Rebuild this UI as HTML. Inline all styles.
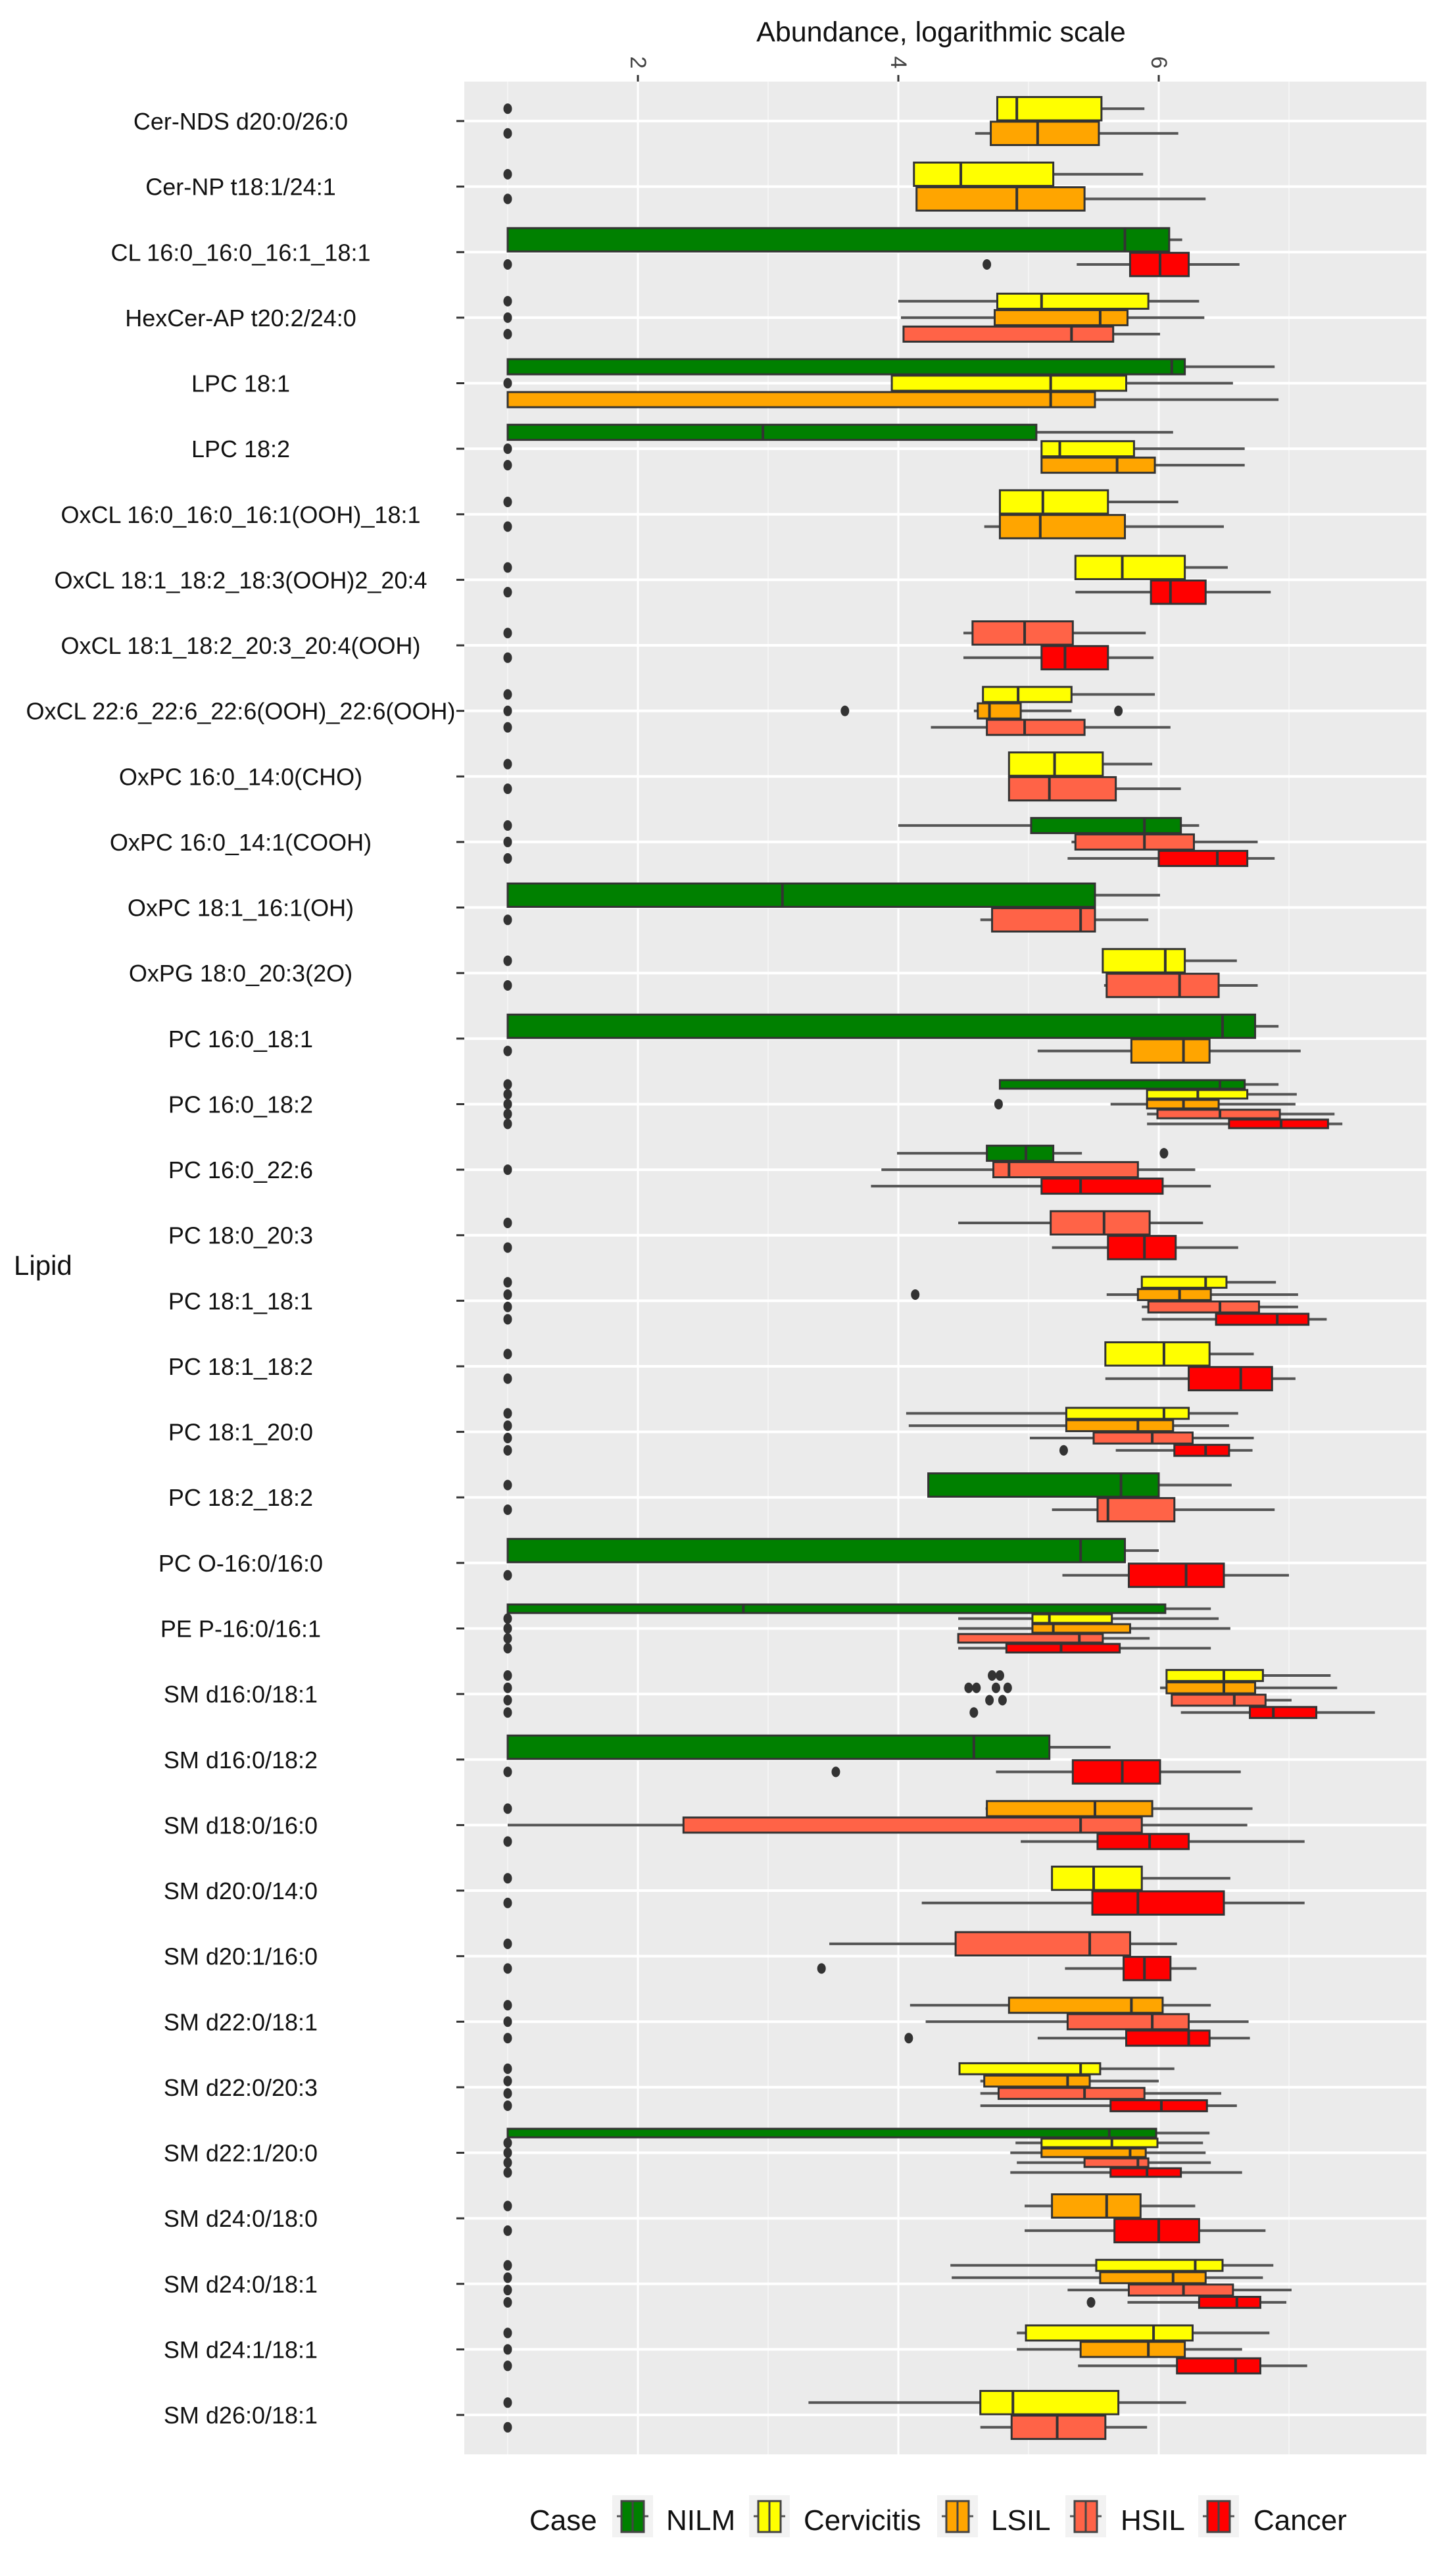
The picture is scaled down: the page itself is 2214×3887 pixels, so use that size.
<!DOCTYPE html>
<html><head><meta charset="utf-8"><style>
html,body{margin:0;padding:0;background:#fff;}
svg{display:block;font-family:"Liberation Sans",Arial,sans-serif;}
</style></head><body>
<svg id="chart" width="2214" height="3887" viewBox="0 0 2214 3887" xmlns="http://www.w3.org/2000/svg">
<rect x="0" y="0" width="2214" height="3887" fill="#fff"/>
<rect x="706" y="124" width="1463" height="3607" fill="#EBEBEB"/>
<g id="grid"></g>
<g id="marks"></g>
<g id="axes"></g>
<text x="1431" y="63" font-size="43" text-anchor="middle" fill="#111">Abundance, logarithmic scale</text>
<text x="21" y="1938" font-size="42" fill="#111">Lipid</text>
<g id="legend">
<text x="805" y="3846" font-size="44" fill="#111">Case</text>
</g>
</svg>
<script>
const lipids=["Cer-NDS d20:0/26:0","Cer-NP t18:1/24:1","CL 16:0_16:0_16:1_18:1","HexCer-AP t20:2/24:0","LPC 18:1","LPC 18:2","OxCL 16:0_16:0_16:1(OOH)_18:1","OxCL 18:1_18:2_18:3(OOH)2_20:4","OxCL 18:1_18:2_20:3_20:4(OOH)","OxCL 22:6_22:6_22:6(OOH)_22:6(OOH)","OxPC 16:0_14:0(CHO)","OxPC 16:0_14:1(COOH)","OxPC 18:1_16:1(OH)","OxPG 18:0_20:3(2O)","PC 16:0_18:1","PC 16:0_18:2","PC 16:0_22:6","PC 18:0_20:3","PC 18:1_18:1","PC 18:1_18:2","PC 18:1_20:0","PC 18:2_18:2","PC O-16:0/16:0","PE P-16:0/16:1","SM d16:0/18:1","SM d16:0/18:2","SM d18:0/16:0","SM d20:0/14:0","SM d20:1/16:0","SM d22:0/18:1","SM d22:0/20:3","SM d22:1/20:0","SM d24:0/18:0","SM d24:0/18:1","SM d24:1/18:1","SM d26:0/18:1"];
const caseNames=["NILM","Cervicitis","LSIL","HSIL","Cancer"];
const caseColors=["#008000","#FFFF00","#FFA500","#FF6347","#FF0000"];
const xTicks=[2,4,6];
const xMinor=[1,3,5,7];
const grp=[[1,2],[1,2],[0,4],[1,2,3],[0,1,2],[0,1,2],[1,2],[1,4],[3,4],[1,2,3],[1,3],[0,3,4],[0,3],[1,3],[0,2],[0,1,2,3,4],[0,3,4],[3,4],[1,2,3,4],[1,4],[1,2,3,4],[0,3],[0,4],[0,1,2,3,4],[1,2,3,4],[0,4],[2,3,4],[1,4],[3,4],[2,3,4],[1,2,3,4],[0,1,2,3,4],[2,4],[1,2,3,4],[1,2,4],[1,3]];
const wlo=[[4.76,4.59],[4.12,4.14],[1,5.37],[4.0,4.02,4.04],[1,3.95,1],[1,5.10,5.10],[4.78,4.66],[5.36,5.36],[4.50,4.50],[4.65,4.58,4.25],[4.85,4.85],[4.0,5.33,5.30],[1,4.63],[5.57,5.58],[1,5.07],[4.78,5.91,5.63,5.91,5.91],[3.99,3.87,3.79],[4.46,5.18],[5.87,5.60,5.87,5.87],[5.59,5.59],[4.06,4.08,5.01,5.67],[4.23,5.18],[1,5.26],[1,4.46,4.46,4.46,4.46],[6.06,6.01,6.10,6.17],[1,4.75],[4.67,1,4.94],[5.18,4.18],[3.47,5.28],[4.09,4.21,5.07],[4.47,4.63,4.63,4.63],[1,4.90,4.86,4.91,4.86],[4.97,4.97],[4.40,4.41,5.30,5.76],[4.91,4.91,5.38],[3.31,4.63]];
const q1=[[4.76,4.71],[4.12,4.14],[1,5.78],[4.76,4.74,4.04],[1,3.95,1],[1,5.10,5.10],[4.78,4.78],[5.36,5.94],[4.57,5.10],[4.65,4.61,4.68],[4.85,4.85],[5.02,5.36,6.0],[1,4.72],[5.57,5.60],[1,5.79],[4.78,5.91,5.91,5.99,6.54],[4.68,4.73,5.10],[5.17,5.61],[5.87,5.84,5.92,6.44],[5.59,6.23],[5.29,5.29,5.50,6.12],[4.23,5.53],[1,5.77],[1,5.03,5.03,4.46,4.83],[6.06,6.06,6.10,6.70],[1,5.34],[4.68,2.35,5.53],[5.18,5.49],[4.44,5.73],[4.85,5.30,5.75],[4.47,4.66,4.77,5.63],[1,5.10,5.10,5.43,5.63],[5.18,5.66],[5.52,5.55,5.77,6.31],[4.98,5.40,6.14],[4.63,4.87]];
const med=[[4.91,5.07],[4.48,4.91],[5.74,6.01],[5.1,5.55,5.33],[6.1,5.17,5.17],[2.96,5.24,5.68],[5.11,5.09],[5.72,6.09],[4.97,5.28],[4.92,4.70,4.97],[5.20,5.16],[5.89,5.89,6.45],[3.11,5.40],[6.05,6.16],[6.49,6.19],[6.47,6.30,6.19,6.47,6.94],[4.98,4.85,5.40],[5.58,5.89],[6.36,6.16,6.47,6.91],[6.04,6.63],[6.04,5.84,5.95,6.36],[5.71,5.61],[5.40,6.21],[2.81,5.16,5.19,5.39,5.25],[6.50,6.50,6.58,6.88],[4.58,5.72],[5.51,5.40,5.93],[5.50,5.84],[5.47,5.89],[5.79,5.95,6.23],[5.40,5.30,5.43,6.02],[5.62,5.64,5.78,5.84,5.91],[5.60,6.0],[6.28,6.11,6.19,6.60],[5.96,5.92,6.59],[4.88,5.22]];
const q3=[[5.56,5.54],[5.19,5.43],[6.08,6.23],[5.92,5.76,5.65],[6.2,5.75,5.51],[5.06,5.81,5.97],[5.61,5.74],[6.20,6.36],[5.34,5.61],[5.33,4.94,5.43],[5.57,5.67],[6.17,6.27,6.68],[5.51,5.51],[6.20,6.46],[6.74,6.39],[6.66,6.68,6.46,6.93,7.30],[5.19,5.84,6.03],[5.93,6.13],[6.52,6.40,6.77,7.15],[6.39,6.87],[6.23,6.11,6.26,6.54],[6.0,6.12],[5.74,6.50],[6.05,5.64,5.78,5.57,5.70],[6.80,6.74,6.82,7.21],[5.16,6.01],[5.95,5.87,6.23],[5.87,6.50],[5.78,6.09],[6.03,6.23,6.39],[5.55,5.47,5.89,6.37],[5.98,5.99,5.90,5.92,6.17],[5.86,6.31],[6.49,6.36,6.57,6.78],[6.26,6.20,6.78],[5.69,5.59]];
const whi=[[5.89,6.15],[5.88,6.36],[6.18,6.62],[6.31,6.35,6.01],[6.89,6.57,6.92],[6.11,6.66,6.66],[6.15,6.50],[6.53,6.86],[5.90,5.96],[5.97,5.33,6.09],[5.95,6.17],[6.31,6.76,6.89],[6.01,5.92],[6.60,6.76],[6.92,7.09],[6.92,7.06,7.05,7.35,7.41],[5.41,6.28,6.40],[6.34,6.61],[6.90,7.07,7.07,7.29],[6.73,7.05],[6.61,6.54,6.73,6.72],[6.56,6.89],[6.0,7.0],[6.40,6.46,6.55,5.93,6.40],[7.32,7.37,7.02,7.66],[5.63,6.63],[6.72,6.68,7.12],[6.55,7.12],[6.14,6.29],[6.40,6.69,6.70],[6.12,6.0,6.48,6.60],[6.39,6.34,6.36,6.40,6.64],[6.28,6.82],[6.88,6.80,7.02,6.98],[6.85,6.64,7.14],[6.21,5.91]];
const zeroDot=[[1,1],[1,1],[0,1],[1,1,1],[0,1,0],[0,1,1],[1,1],[1,1],[1,1],[1,1,1],[1,1],[1,1,1],[0,1],[1,1],[0,1],[1,1,1,1,1],[0,1,0],[1,1],[1,1,1,1],[1,1],[1,1,1,1],[1,1],[0,1],[0,1,1,1,1],[1,1,1,1],[0,1],[1,0,1],[1,1],[1,1],[1,1,1],[1,1,1,1],[0,1,1,1,1],[1,1],[1,1,1,1],[1,1,1],[1,1]];
const extraOut=[[],[],[[],[4.68]],[],[],[],[],[],[],[[],[3.59,5.69],[]],[],[],[],[],[],[[],[],[4.77],[],[]],[[6.04],[],[]],[],[[],[4.13],[],[]],[],[[],[],[],[5.27]],[],[],[],[[4.72,4.78],[4.54,4.60,4.75,4.84],[4.70,4.80],[4.58]],[[],[3.52]],[],[],[[],[3.41]],[[],[],[4.08]],[],[],[],[[],[],[],[5.48]],[],[]];

const NS="http://www.w3.org/2000/svg";
const PL=706,PR=2169,PT=124,PB=3731;
function xs(v){return 1366+(v-4)*198;}
function ys(i){return 184+i*99.63;}
function mk(tag,attrs,parent){const e=document.createElementNS(NS,tag);for(const k in attrs)e.setAttribute(k,attrs[k]);parent.appendChild(e);return e;}
const grid=document.getElementById('grid'),marks=document.getElementById('marks'),axes=document.getElementById('axes'),legend=document.getElementById('legend');

xMinor.forEach(v=>{const l=mk('line',{x1:xs(v),x2:xs(v),y1:PT,y2:PB,stroke:'#F7F7F7','stroke-width':1.5},grid);

});
xTicks.forEach(v=>{const l=mk('line',{x1:xs(v),x2:xs(v),y1:PT,y2:PB,stroke:'#fff','stroke-width':3},grid);


const t=mk('line',{x1:xs(v),x2:xs(v),y1:114,y2:124,stroke:'#333','stroke-width':3},axes);


const tx=mk('text',{x:xs(v),y:95,'font-size':34,fill:'#444','text-anchor':'middle','dominant-baseline':'central',transform:`rotate(90 ${xs(v)} 95)`},axes);
tx.textContent=v;

});

lipids.forEach((name,i)=>{const y=ys(i);
const gl=mk('line',{x1:PL,x2:PR,y1:y,y2:y,stroke:'#fff','stroke-width':4},grid);


const tk=mk('line',{x1:694,x2:706,y1:y,y2:y,stroke:'#333','stroke-width':3},axes);


const lb=mk('text',{x:366,y:y+13,'font-size':36,fill:'#111','text-anchor':'middle'},axes);
lb.textContent=name;


const n=grp[i].length,total=75,slot=total/n;
grp[i].forEach((g,k)=>{const cy=y-total/2+slot*(k+0.5),h=slot-2;
const bg=mk('g',{},marks);


mk('line',{x1:xs(wlo[i][k]),x2:xs(q1[i][k]),y1:cy,y2:cy,stroke:'#555','stroke-width':4},bg);
mk('line',{x1:xs(q3[i][k]),x2:xs(whi[i][k]),y1:cy,y2:cy,stroke:'#555','stroke-width':4},bg);
mk('rect',{x:xs(q1[i][k]),y:cy-h/2,width:Math.max(1,xs(q3[i][k])-xs(q1[i][k])),height:h,fill:caseColors[g],stroke:'#333','stroke-width':3},bg);
mk('line',{x1:xs(med[i][k]),x2:xs(med[i][k]),y1:cy-h/2,y2:cy+h/2,stroke:'#333','stroke-width':4},bg);
const outs=(extraOut[i][k]||[]).slice();if(zeroDot[i][k])outs.unshift(1);
outs.forEach(v=>{const d=mk('ellipse',{cx:xs(v),cy:cy,rx:6.5,ry:8,fill:'#333'},marks);

});
});});

const keyX=[962,1170,1456,1651,1853],txtX=[1013,1222,1507,1704,1906];
caseNames.forEach((c,j)=>{const g=mk('g',{},legend);


mk('rect',{x:keyX[j]-31,y:3793,width:62,height:64,fill:'#F2F2F2'},g);
mk('line',{x1:keyX[j]-24,x2:keyX[j]+24,y1:3825,y2:3825,stroke:'#555','stroke-width':3},g);
mk('rect',{x:keyX[j]-17,y:3802,width:34,height:47,fill:caseColors[j],stroke:'#444','stroke-width':3},g);
mk('line',{x1:keyX[j],x2:keyX[j],y1:3802,y2:3849,stroke:'#444','stroke-width':3},g);
const t=mk('text',{x:txtX[j],y:3846,'font-size':44,fill:'#111'},g);t.textContent=c;});
</script>
</body></html>
